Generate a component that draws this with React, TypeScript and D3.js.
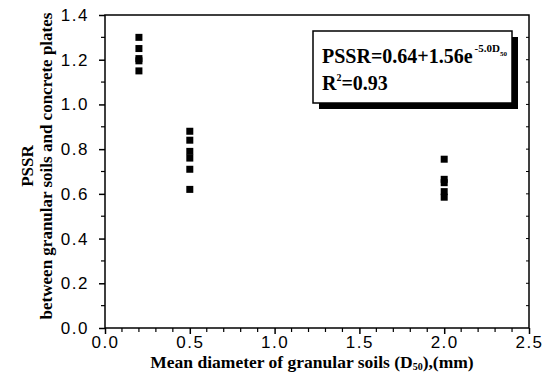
import React, { useEffect, useRef } from 'react';
import * as d3 from 'd3';

const d50Groups = [0.2, 0.5, 2.0];
const pssrAt02 = [1.3, 1.25, 1.205, 1.195, 1.15];
const pssrAt05 = [0.88, 0.84, 0.79, 0.76, 0.71, 0.62];
const pssrAt20 = [0.755, 0.665, 0.65, 0.61, 0.585];
const xTicks = [0, 0.5, 1.0, 1.5, 2.0, 2.5];
const yTicks = [0, 0.2, 0.4, 0.6, 0.8, 1.0, 1.2, 1.4];

export default function App() {
  const ref = useRef<SVGSVGElement>(null);

  useEffect(() => {
    const svg = d3.select(ref.current);
    svg.selectAll('*').remove();
    const width = 547, height = 373;
    const left = 105, right = 529, top = 15, bottom = 328;
    const sans = '"Liberation Sans", Arial, sans-serif';
    const serif = '"Liberation Serif", "Times New Roman", serif';

    const x = d3.scaleLinear().domain([0, 2.5]).range([left, right]);
    const y = d3.scaleLinear().domain([0, 1.4]).range([bottom, top]);

    svg.attr('width', width).attr('height', height);

    // frame
    svg.append('rect')
      .attr('x', left).attr('y', top)
      .attr('width', right - left).attr('height', bottom - top)
      .attr('fill', 'none').attr('stroke', '#000').attr('stroke-width', 1.5);

    // bottom axis
    const xAxis = d3.axisBottom(x).tickValues(xTicks)
      .tickFormat(d3.format('.1f')).tickSize(6).tickPadding(2);
    const gx = svg.append('g').attr('transform', `translate(0,${bottom})`).call(xAxis);
    gx.select('.domain').remove();
    gx.selectAll('line').attr('stroke-width', 1.5);
    gx.selectAll('text')
      .attr('font-family', sans).attr('letter-spacing', 1.5)
      .attr('font-size', 17).attr('fill', '#000');
    const xMinor = d3.range(0, 2.51, 0.1).filter(v => !xTicks.some(t => Math.abs(t - v) < 1e-6));
    svg.append('g').selectAll('line').data(xMinor).enter().append('line')
      .attr('x1', d => x(d)).attr('x2', d => x(d))
      .attr('y1', bottom).attr('y2', bottom + 4)
      .attr('stroke', '#000').attr('stroke-width', 1.2);

    // left axis
    const yAxis = d3.axisLeft(y).tickValues(yTicks)
      .tickFormat(d3.format('.1f')).tickSize(6).tickPadding(10);
    const gy = svg.append('g').attr('transform', `translate(${left},0)`).call(yAxis);
    gy.select('.domain').remove();
    gy.selectAll('line').attr('stroke-width', 1.5);
    gy.selectAll('text')
      .attr('font-family', sans).attr('letter-spacing', 1.5)
      .attr('font-size', 17).attr('fill', '#000');
    const yMinor = d3.range(0.1, 1.4, 0.2);
    svg.append('g').selectAll('line').data(yMinor).enter().append('line')
      .attr('x1', left - 4).attr('x2', left)
      .attr('y1', d => y(d)).attr('y2', d => y(d))
      .attr('stroke', '#000').attr('stroke-width', 1.2);

    // right mirror ticks
    svg.append('g').selectAll('line').data(d3.range(0.1, 1.4, 0.1)).enter().append('line')
      .attr('x1', right - 3).attr('x2', right)
      .attr('y1', d => y(d)).attr('y2', d => y(d))
      .attr('stroke', '#000').attr('stroke-width', 1);

    // data
    const groups = [pssrAt02, pssrAt05, pssrAt20];
    const pts: [number, number][] = [];
    groups.forEach((vals, i) => vals.forEach(v => pts.push([d50Groups[i], v])));
    const s = 7;
    svg.append('g').selectAll('rect').data(pts).enter().append('rect')
      .attr('x', d => x(d[0]) - s / 2).attr('y', d => y(d[1]) - s / 2)
      .attr('width', s).attr('height', s).attr('fill', '#000');

    // legend box
    const bx = 313, by = 31, bw = 199, bh = 72;
    svg.append('rect').attr('x', bx + 6).attr('y', by + 6)
      .attr('width', bw).attr('height', bh).attr('fill', '#000');
    svg.append('rect').attr('x', bx).attr('y', by)
      .attr('width', bw).attr('height', bh)
      .attr('fill', '#fff').attr('stroke', '#000').attr('stroke-width', 1.5);

    const t1 = svg.append('text').attr('x', bx + 9).attr('y', by + 32)
      .attr('font-family', serif).attr('font-weight', 'bold').attr('font-size', 20);
    t1.append('tspan').text('PSSR=0.64+1.56e');
    t1.append('tspan').attr('dx', 2).attr('dy', -11).attr('font-size', 11).text('-5.0D');
    t1.append('tspan').attr('dy', 4).attr('font-size', 7).text('50');

    const t2 = svg.append('text').attr('x', bx + 9).attr('y', by + 59)
      .attr('font-family', serif).attr('font-weight', 'bold').attr('font-size', 20);
    t2.append('tspan').text('R');
    t2.append('tspan').attr('dy', -9).attr('font-size', 10).text('2');
    t2.append('tspan').attr('dy', 9).text('=0.93');

    // x title
    const xt = svg.append('text').attr('x', (left + right) / 2 - 5).attr('y', 368)
      .attr('text-anchor', 'middle')
      .attr('font-family', serif).attr('font-weight', 'bold').attr('font-size', 17.5);
    xt.append('tspan').text('Mean diameter of granular soils (D');
    xt.append('tspan').attr('dy', 2).attr('font-size', 10).text('50');
    xt.append('tspan').attr('dy', -2).text('),(mm)');

    // y title
    const cy = 166;
    svg.append('text').attr('transform', `translate(33,${cy}) rotate(-90)`)
      .attr('text-anchor', 'middle')
      .attr('font-family', serif).attr('font-weight', 'bold').attr('font-size', 17)
      .text('PSSR');
    svg.append('text').attr('transform', `translate(52,${cy}) rotate(-90)`)
      .attr('text-anchor', 'middle')
      .attr('font-family', serif).attr('font-weight', 'bold').attr('font-size', 17)
      .text('between granular soils and concrete plates');
  }, []);

  return <svg ref={ref} style={{ position: 'absolute', left: 0, top: 0 }} />;
}
